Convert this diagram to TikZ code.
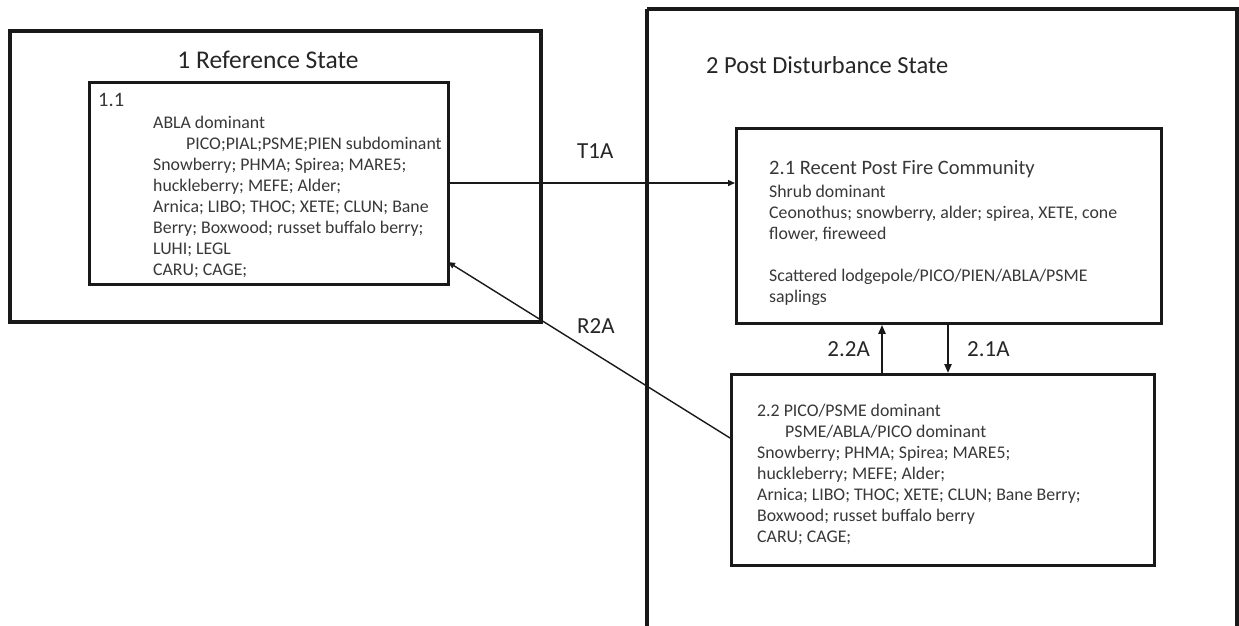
\documentclass[tikz,border=0pt]{standalone}
\usepackage{fontspec}
\setmainfont{Carlito}
\usetikzlibrary{arrows.meta}
\begin{document}
\begin{tikzpicture}[x=1pt,y=-1pt,
  outerbox/.style={draw=black!90,line width=3.2pt},
  innerbox/.style={draw=black!90,line width=2.8pt},
  conn/.style={draw=black!90,line width=1.4pt,-{Triangle[length=7pt,width=6pt]}},
  vconn/.style={draw=black!90,line width=2.2pt,-{Triangle[length=9pt,width=7pt]}},
  body/.style={anchor=north west,inner sep=0pt,align=left,text=black!78,font=\fontsize{17.8}{21}\selectfont},
  bigtitle/.style={anchor=base,inner sep=0pt,text=black!85,font=\fontsize{24.5}{28}\selectfont},
  lbl/.style={anchor=base west,inner sep=0pt,text=black!85,font=\fontsize{23}{28}\selectfont}]
\useasboundingbox[fill=white] (0,0) rectangle (1239,626);
\newcommand{\fst}{\rule{0pt}{15pt}}
% outer state boxes
\draw[outerbox] (10,31) rectangle (541,322);
\draw[outerbox] (647,9) -- (647,640) (1237,640) -- (1237,9) -- (647,9);
\node[bigtitle,font=\fontsize{25.5}{28}\selectfont] (t1) at (268,68) {1 Reference State};
\node[bigtitle,anchor=base west] (t2) at (706,74) {2 Post Disturbance State};
% community boxes
\node[innerbox,minimum width=359pt,minimum height=202pt,anchor=north west,inner sep=0pt] (b11) at (88,81) {};
\node[innerbox,minimum width=425pt,minimum height=195pt,anchor=north west,inner sep=0pt] (b21) at (735,127) {};
\node[innerbox,minimum width=423pt,minimum height=191pt,anchor=north west,inner sep=0pt] (b22) at (730,373) {};
% texts
\node[body,anchor=base west,font=\fontsize{20.5}{24}\selectfont] (n11) at (98,106) {1.1};
\node[body] (x11) at (153,113) {\fst ABLA dominant\\
\hspace*{33pt}PICO;PIAL;PSME;PIEN subdominant\\
Snowberry; PHMA; Spirea; MARE5;\\
huckleberry; MEFE; Alder;\\
Arnica; LIBO; THOC; XETE; CLUN; Bane\\
Berry; Boxwood; russet\ buffalo berry;\\
LUHI; LEGL\\
CARU; CAGE;};
\node[body,anchor=base west,font=\fontsize{20.5}{24}\selectfont] (h21) at (769,174) {2.1 Recent Post Fire Community};
\node[body] (x21) at (769,182) {\fst Shrub dominant\\
Ceonothus; snowberry, alder; spirea, XETE, cone\\
flower, fireweed\\
\\
Scattered lodgepole/PICO/PIEN/ABLA/PSME\\
saplings};
\node[body] (x22) at (757,401) {\fst 2.2 PICO/PSME dominant\\
\hspace*{28pt}PSME/ABLA/PICO dominant\\
Snowberry; PHMA; Spirea; MARE5;\\
huckleberry; MEFE; Alder;\\
Arnica; LIBO; THOC; XETE; CLUN; Bane Berry;\\
Boxwood; russet\ buffalo berry\\
CARU; CAGE;};
% connectors
\coordinate (t1a) at (447,183);
\coordinate (t1b) at (735,183);
\draw[conn] (t1a) -- (t1b);
\node[lbl] (lt1a) at (577,158) {T1A};
\coordinate (r2a) at (730,438);
\coordinate (r2b) at (448,262);
\draw[conn] (r2a) -- (r2b);
\node[lbl] (lr2a) at (577,333) {R2A};
\draw[vconn] (b22.north -| 882,0) -- (b21.south -| 882,0);
\draw[vconn] (b21.south -| 948,0) -- (b22.north -| 948,0);
\node[lbl,anchor=base east] (l22a) at (870,356) {2.2A};
\node[lbl] (l21a) at (967,356) {2.1A};
\end{tikzpicture}
\end{document}
